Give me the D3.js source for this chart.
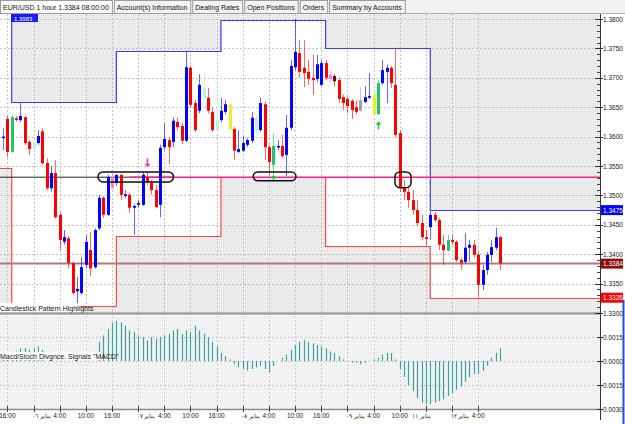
<!DOCTYPE html>
<html>
<head>
<meta charset="utf-8">
<title>EUR/USD 1 hour</title>
<script src="https://cdn.jsdelivr.net/npm/d3@7"></script>
<style>
  body { margin: 0; background: #fff; overflow: hidden; }
  text { font-family: "Liberation Sans", Arial, sans-serif; }
</style>
</head>
<body>
<script>
// ---- data ----
var opens  = [1.3598,1.3630,1.3574,1.3631,1.3628,1.3633,1.3591,1.3579,1.3589,1.3609,
              1.3555,1.3512,1.3538,1.3467,1.3421,1.3427,1.3385,1.3337,1.3334,1.3382,
              1.3407,1.3378,1.3444,1.3496,1.3467,1.3513,1.3521,1.3535,1.3499,1.3501,
              1.3479,1.3484,1.3484,1.3531,1.3521,1.3509,1.3484,1.3582,1.3594,1.3591,
              1.3625,1.3618,1.3593,1.3717,1.3657,1.3644,1.3666,1.3666,1.3642,1.3611,
              1.3628,1.3642,1.3613,1.3613,1.3574,1.3576,1.3586,1.3593,1.3608,1.3611,
              1.3655,1.3582,1.3552,1.3582,1.3584,1.3569,1.3615,1.3718,1.3742,1.3717,
              1.3710,1.3700,1.3698,1.3688,1.3725,1.3698,1.3703,1.3696,1.3667,1.3664,
              1.3661,1.3650,1.3644,1.3659,1.3666,1.3638,1.3638,1.3691,1.3710,1.3717,
              1.3688,1.3606,1.3514,1.3506,1.3492,1.3475,1.3453,1.3429,1.3446,1.3467,
              1.3458,1.3416,1.3406,1.3424,1.3421,1.3390,1.3387,1.3411,1.3416,1.3399,
              1.3348,1.3373,1.3399,1.3411,1.3429];
var highs  = [1.3614,1.3635,1.3636,1.3635,1.3657,1.3635,1.3594,1.3592,1.3611,1.3614,
              1.3563,1.3550,1.3560,1.3472,1.3441,1.3431,1.3387,1.3361,1.3395,1.3433,
              1.3438,1.3444,1.3501,1.3499,1.3535,1.3538,1.3536,1.3536,1.3509,1.3504,
              1.3485,1.3492,1.3540,1.3540,1.3526,1.3518,1.3586,1.3623,1.3598,1.3632,
              1.3632,1.3623,1.3746,1.3720,1.3662,1.3706,1.3710,1.3683,1.3649,1.3662,
              1.3666,1.3662,1.3659,1.3616,1.3611,1.3601,1.3598,1.3642,1.3637,1.3666,
              1.3659,1.3586,1.3606,1.3594,1.3603,1.3637,1.3730,1.3800,1.3764,1.3764,
              1.3730,1.3739,1.3739,1.3730,1.3730,1.3713,1.3706,1.3700,1.3671,1.3668,
              1.3664,1.3662,1.3684,1.3686,1.3708,1.3674,1.3696,1.3730,1.3722,1.3720,
              1.3751,1.3611,1.3526,1.3513,1.3509,1.3492,1.3467,1.3441,1.3473,1.3472,
              1.3462,1.3433,1.3433,1.3433,1.3424,1.3394,1.3436,1.3424,1.3424,1.3404,
              1.3382,1.3404,1.3424,1.3445,1.3431];
var lows   = [1.3577,1.3565,1.3572,1.3626,1.3625,1.3586,1.3569,1.3577,1.3586,1.3552,
              1.3509,1.3506,1.3461,1.3407,1.3416,1.3376,1.3331,1.3317,1.3331,1.3376,
              1.3363,1.3375,1.3441,1.3462,1.3465,1.3509,1.3516,1.3492,1.3496,1.3470,
              1.3433,1.3480,1.3482,1.3518,1.3501,1.3478,1.3463,1.3577,1.3553,1.3582,
              1.3611,1.3587,1.3591,1.3649,1.3608,1.3640,1.3662,1.3640,1.3608,1.3608,
              1.3625,1.3638,1.3606,1.3560,1.3572,1.3574,1.3582,1.3589,1.3603,1.3608,
              1.3560,1.3535,1.3535,1.3577,1.3564,1.3533,1.3611,1.3713,1.3700,1.3684,
              1.3688,1.3671,1.3693,1.3686,1.3696,1.3693,1.3686,1.3657,1.3645,1.3640,
              1.3630,1.3638,1.3642,1.3657,1.3664,1.3635,1.3638,1.3688,1.3657,1.3683,
              1.3599,1.3506,1.3492,1.3479,1.3467,1.3448,1.3424,1.3414,1.3424,1.3455,
              1.3407,1.3382,1.3404,1.3416,1.3387,1.3373,1.3384,1.3387,1.3394,1.3326,
              1.3339,1.3365,1.3387,1.3407,1.3373];
var closes = [1.3600,1.3574,1.3633,1.3628,1.3635,1.3589,1.3579,1.3589,1.3601,1.3555,
              1.3512,1.3538,1.3463,1.3424,1.3429,1.3385,1.3334,1.3341,1.3378,1.3421,
              1.3376,1.3441,1.3496,1.3467,1.3531,1.3531,1.3535,1.3501,1.3502,1.3479,
              1.3482,1.3487,1.3535,1.3523,1.3509,1.3480,1.3581,1.3596,1.3582,1.3627,
              1.3616,1.3593,1.3718,1.3654,1.3611,1.3688,1.3683,1.3644,1.3611,1.3628,
              1.3644,1.3655,1.3655,1.3576,1.3579,1.3589,1.3594,1.3632,1.3632,1.3657,
              1.3582,1.3557,1.3584,1.3584,1.3567,1.3615,1.3720,1.3744,1.3710,1.3708,
              1.3698,1.3696,1.3723,1.3725,1.3700,1.3705,1.3694,1.3664,1.3657,1.3652,
              1.3645,1.3642,1.3662,1.3667,1.3669,1.3671,1.3691,1.3713,1.3717,1.3691,
              1.3603,1.3514,1.3506,1.3492,1.3475,1.3453,1.3429,1.3426,1.3467,1.3458,
              1.3416,1.3407,1.3424,1.3421,1.3390,1.3385,1.3411,1.3416,1.3399,1.3348,
              1.3373,1.3399,1.3412,1.3429,1.3384];
// candles recoloured by the pattern-highlight indicator
var markIdx   = [2, 7, 25, 46, 49, 52, 58, 62, 75, 76, 82, 85, 86, 102];
var markColor = ["#1fc46d","#b8f2ee","#ff7fd0","#b8f2ee","#b8f2ee","#eeee22","#b8f2ee",
                 "#1fc46d","#ff7fd0","#800000","#a0a0a0","#eeee22","#1fc46d","#1fc46d"];

var macd = [0.0003,0.0004,0.0005,0.0006,0.0008,0.0008,0.0007,0.0008,0.0009,0.0007,
            0.0000,0.0000,0.0000,0.0000,0.0000,0.0000,0.0000,0.0000,0.0000,0.0000,
            0.0000,0.0000,0.0012,0.0016,0.0020,0.0024,0.0025,0.0024,0.0022,0.0019,
            0.0018,0.0016,0.0015,0.0013,0.0015,0.0014,0.0015,0.0016,0.0017,0.0019,
            0.0020,0.0017,0.0019,0.0018,0.0022,0.0019,0.0017,0.0015,0.0012,0.0009,
            0.0005,0.0003,0.0001,-0.0002,-0.0004,-0.0005,-0.0006,-0.0005,-0.0004,-0.0003,
            -0.0005,-0.0007,-0.0003,0.0000,0.0002,0.0004,0.0007,0.0010,0.0012,0.0013,
            0.0012,0.0011,0.0010,0.0009,0.0008,0.0006,0.0005,0.0003,0.0001,0.0000,
            -0.0001,-0.0001,-0.0002,-0.0001,0.0000,0.0001,0.0002,0.0004,0.0005,0.0005,
            0.0001,-0.0005,-0.0010,-0.0015,-0.0019,-0.0023,-0.0026,-0.0027,-0.0027,-0.0026,
            -0.0025,-0.0024,-0.0022,-0.0020,-0.0018,-0.0016,-0.0013,-0.0010,-0.0008,-0.0008,
            -0.0006,-0.0003,0.0002,0.0005,0.0008];

// daily high / low channel (first value = day before the visible range)
var dayStart = [2, 26, 50, 74, 98];
var dayHigh  = [1.3983, 1.3659, 1.3746, 1.3799, 1.3750, 1.3475];
var dayLow   = [1.3547, 1.3312, 1.3431, 1.3532, 1.3414, 1.3326];

var priceTicks = [1.3300, 1.3350, 1.3400, 1.3450, 1.3500, 1.3550, 1.3600, 1.3650, 1.3700, 1.3750, 1.3800];
var macdTicks  = [0.0015, 0, -0.0015, -0.0030];
var macdTickText = ["0.0015", "0.0000", "0.0015", "0.0030"];

var timeIdx  = [1, 7, 13, 19, 25, 31, 37, 43, 49, 55, 61, 67, 73, 79, 85, 91, 97, 103, 109];
var timeText = ["16:00","","4:00","10:00","16:00","","4:00","10:00","16:00","","4:00","10:00","16:00","","4:00","10:00","","","4:00"];
var dateText = ["","","يناير ٠٦","","","","يناير ٠٧","","","","يناير ٠٨","","","","يناير ٠٩","","يناير ١١","","يناير ١٢"];

var arrowIdx   = [33, 86, 62];
var arrowTip   = [1.3548, 1.3626, 1.3535];
var arrowDir   = [1, -1, -1];       // 1 = pointing down
var arrowColor = ["#ff3fa0", "#11cc33", "#11cc33"];
var arrowSize  = [9, 8, 5];

var capsuleFrom = [21.8, 57.4, 89.9];
var capsuleTo   = [39.1, 67.2, 93.6];
var capsuleHi   = [1.3540, 1.3540, 1.3540];
var capsuleLo   = [1.3523, 1.3525, 1.3513];

var supportLevel = 1.3531;
var lastPrice = 1.3384;
var sideLabels = [1.3475, 1.3384, 1.3326];
var sideColors = ["#0000ff", "#8a0f0f", "#ff0000"];

var tabs = ["EUR/USD 1 hour 1.3384 08:00:00", "Account(s) Information", "Dealing Rates",
            "Open Positions", "Orders", "Summary by Accounts"];

// ---- layout ----
var width = 625, height = 424;
var plotR = 600, mainTop = 14, mainBot = 312, subTop = 316, subBot = 409;

var x = d3.scaleLinear().domain([0, 114]).range([3, 500]);
var y = d3.scaleLinear().domain([1.33, 1.38]).range([313, 19]);
var ym = d3.scaleLinear().domain([-0.003, 0.0015]).range([409, 337]);

var svg = d3.select("body").append("svg")
    .attr("width", width)
    .attr("height", height);

var defs = svg.append("defs");
var pat = defs.append("pattern").attr("id", "shade")
    .attr("width", 2).attr("height", 2).attr("patternUnits", "userSpaceOnUse");
pat.append("rect").attr("width", 2).attr("height", 2).attr("fill", "#e6e6e6");
pat.append("rect").attr("width", 1).attr("height", 1).attr("fill", "#f7f7f7");
var pat2 = defs.append("pattern").attr("id", "shade2")
    .attr("width", 2).attr("height", 2).attr("patternUnits", "userSpaceOnUse");
pat2.append("rect").attr("width", 2).attr("height", 2).attr("fill", "#f5f5f5");
pat2.append("rect").attr("width", 1).attr("height", 1).attr("fill", "#e7e7e7");

defs.append("clipPath").attr("id", "clipMain")
    .append("rect").attr("x", 0).attr("y", mainTop).attr("width", plotR).attr("height", mainBot - mainTop);
defs.append("clipPath").attr("id", "clipSub")
    .append("rect").attr("x", 0).attr("y", subTop).attr("width", plotR).attr("height", subBot - subTop);

svg.append("rect").attr("width", width).attr("height", height).attr("fill", "#fff");

// ---- main panel ----
var main = svg.append("g").attr("clip-path", "url(#clipMain)");

// segment edges of the day channel
var segX = [0].concat(dayStart.map(function (d) { return x(d); })).concat([plotR]);

dayHigh.forEach(function (h, k) {
    main.append("rect")
        .attr("x", segX[k]).attr("width", segX[k + 1] - segX[k])
        .attr("y", mainTop).attr("height", Math.max(0, y(h) - mainTop))
        .attr("fill", "url(#shade)");
    main.append("rect")
        .attr("x", segX[k]).attr("width", segX[k + 1] - segX[k])
        .attr("y", y(dayLow[k])).attr("height", Math.max(0, mainBot - y(dayLow[k])))
        .attr("fill", "url(#shade)");
});

// grid
main.selectAll(".hgrid").data(priceTicks).enter().append("line")
    .attr("x1", 0).attr("x2", plotR)
    .attr("y1", function (d) { return Math.round(y(d)) + 0.5; })
    .attr("y2", function (d) { return Math.round(y(d)) + 0.5; })
    .attr("stroke", "#c4c4c4").attr("stroke-dasharray", "2,2");
main.selectAll(".vgrid").data(timeIdx).enter().append("line")
    .attr("x1", function (d) { return Math.round(x(d)) + 0.5; })
    .attr("x2", function (d) { return Math.round(x(d)) + 0.5; })
    .attr("y1", mainTop).attr("y2", mainBot)
    .attr("stroke", "#c4c4c4").attr("stroke-dasharray", "2,2");

// channel lines
function stepPath(levels) {
    var p = "";
    levels.forEach(function (v, k) {
        var yy = Math.round(y(v)) + 0.5;
        p += (k === 0 ? "M" : "L") + segX[k] + "," + yy + "L" + segX[k + 1] + "," + yy;
    });
    return p;
}
main.append("path").attr("d", stepPath(dayHigh)).attr("fill", "none")
    .attr("stroke", "#3b3bff").attr("stroke-width", 1.2);
main.append("path").attr("d", stepPath(dayLow)).attr("fill", "none")
    .attr("stroke", "#ff4a4a").attr("stroke-width", 1.2);

// horizontal levels
main.append("line")
    .attr("x1", 0).attr("x2", plotR)
    .attr("y1", y(lastPrice)).attr("y2", y(lastPrice))
    .attr("stroke", "#b07a7a").attr("stroke-width", 2);
main.append("line")
    .attr("x1", 0).attr("x2", x(capsuleTo[0]))
    .attr("y1", y(supportLevel)).attr("y2", y(supportLevel))
    .attr("stroke", "#222").attr("stroke-width", 1);
main.append("line")
    .attr("x1", x(29)).attr("x2", plotR)
    .attr("y1", y(supportLevel)).attr("y2", y(supportLevel))
    .attr("stroke", "#ff1f8f").attr("stroke-width", 1.5);

// candles
var idx = d3.range(opens.length);
function candleColor(i) {
    var m = markIdx.indexOf(i);
    if (m >= 0) return markColor[m];
    return closes[i] >= opens[i] ? "#0000ff" : "#ff0000";
}
var candles = main.append("g").selectAll("g").data(idx).enter().append("g");
candles.append("line")
    .attr("x1", function (i) { return Math.round(x(i)) + 0.5; })
    .attr("x2", function (i) { return Math.round(x(i)) + 0.5; })
    .attr("y1", function (i) { return y(highs[i]); })
    .attr("y2", function (i) { return y(lows[i]); })
    .attr("stroke", candleColor).attr("stroke-opacity", 0.6);
candles.append("rect")
    .attr("x", function (i) { return Math.round(x(i)) - 1; })
    .attr("width", 3)
    .attr("y", function (i) { return y(Math.max(opens[i], closes[i])); })
    .attr("height", function (i) { return Math.max(1.5, Math.abs(y(opens[i]) - y(closes[i]))); })
    .attr("fill", candleColor);

// signal arrows
arrowIdx.forEach(function (ci, k) {
    var cx = Math.round(x(ci)) + 0.5, tip = y(arrowTip[k]), s = arrowSize[k], dir = arrowDir[k];
    var base = tip - dir * s;
    main.append("line").attr("x1", cx).attr("x2", cx)
        .attr("y1", base).attr("y2", tip - dir * 3)
        .attr("stroke", arrowColor[k]).attr("stroke-width", 1.5);
    main.append("path")
        .attr("d", "M" + (cx - 3) + "," + (tip - dir * 3.5) + "L" + (cx + 3) + "," + (tip - dir * 3.5) + "L" + cx + "," + tip + "Z")
        .attr("fill", arrowColor[k]);
});

// pattern capsules
capsuleFrom.forEach(function (c, k) {
    var x0 = x(c), x1 = x(capsuleTo[k]), y0 = y(capsuleHi[k]), y1 = y(capsuleLo[k]);
    main.append("rect")
        .attr("x", x0).attr("y", y0).attr("width", x1 - x0).attr("height", y1 - y0)
        .attr("rx", Math.min((y1 - y0) / 2, 5)).attr("ry", Math.min((y1 - y0) / 2, 5))
        .attr("fill", "none").attr("stroke", "#111").attr("stroke-width", 1.5);
});

// indicator name
var lbl1 = svg.append("g");
lbl1.append("rect").attr("x", 0).attr("y", 303).attr("width", 80).attr("height", 9).attr("fill", "#fff");
lbl1.append("text").attr("x", 0).attr("y", 310.5).attr("font-size", 7).attr("fill", "#111")
    .text("Candlestick Pattern Highlights");

// ---- MACD panel ----
var sub = svg.append("g").attr("clip-path", "url(#clipSub)");
sub.append("rect").attr("x", 0).attr("y", subTop).attr("width", plotR).attr("height", subBot - subTop)
    .attr("fill", "url(#shade2)");
sub.selectAll(".mgrid").data(macdTicks.slice(0, 3)).enter().append("line")
    .attr("x1", 0).attr("x2", plotR)
    .attr("y1", function (d) { return Math.round(ym(d)) + 0.5; })
    .attr("y2", function (d) { return Math.round(ym(d)) + 0.5; })
    .attr("stroke", "#cfcfcf").attr("stroke-dasharray", "2,2");
sub.selectAll(".mvgrid").data(timeIdx).enter().append("line")
    .attr("x1", function (d) { return Math.round(x(d)) + 0.5; })
    .attr("x2", function (d) { return Math.round(x(d)) + 0.5; })
    .attr("y1", subTop).attr("y2", subBot)
    .attr("stroke", "#cfcfcf").attr("stroke-dasharray", "2,2");
sub.selectAll(".bar").data(idx.filter(function (i) { return macd[i] !== 0; })).enter().append("line")
    .attr("x1", function (i) { return Math.round(x(i)) + 0.5; })
    .attr("x2", function (i) { return Math.round(x(i)) + 0.5; })
    .attr("y1", ym(0))
    .attr("y2", function (i) { return ym(macd[i]); })
    .attr("stroke", "#3ea39b").attr("stroke-width", 1.2);

var lbl2 = svg.append("g");
lbl2.append("rect").attr("x", 0).attr("y", 352).attr("width", 100).attr("height", 8).attr("fill", "#fff");
lbl2.append("text").attr("x", 0).attr("y", 359).attr("font-size", 7).attr("fill", "#111")
    .text("Macd/Stoch Divgnce.  Signals \"MACD\"");

// separators
svg.append("line").attr("x1", 0).attr("x2", plotR).attr("y1", 313.5).attr("y2", 313.5)
    .attr("stroke", "#9c9c9c").attr("stroke-width", 2.5);
svg.append("line").attr("x1", 0).attr("x2", plotR).attr("y1", subBot + 0.5).attr("y2", subBot + 0.5)
    .attr("stroke", "#8c8c8c").attr("stroke-width", 1.5);

// ---- right axis ----
svg.append("line").attr("x1", plotR + 0.5).attr("x2", plotR + 0.5).attr("y1", mainTop).attr("y2", 420)
    .attr("stroke", "#333");
var minor = d3.range(1.3300, 1.3805, 0.001);
svg.selectAll(".mtick").data(minor).enter().append("line")
    .attr("x1", plotR - 3).attr("x2", plotR)
    .attr("y1", function (d) { return Math.round(y(d)) + 0.5; })
    .attr("y2", function (d) { return Math.round(y(d)) + 0.5; })
    .attr("stroke", "#444");
svg.selectAll(".ptick").data(priceTicks).enter().append("line")
    .attr("x1", plotR - 5).attr("x2", plotR + 3)
    .attr("y1", function (d) { return Math.round(y(d)) + 0.5; })
    .attr("y2", function (d) { return Math.round(y(d)) + 0.5; })
    .attr("stroke", "#333");
svg.selectAll(".plabel").data(priceTicks).enter().append("text")
    .attr("x", plotR + 3).attr("y", function (d) { return y(d) + 2.5; })
    .attr("font-size", 6.5).attr("fill", "#222")
    .text(function (d) { return d.toFixed(4); });

sideLabels.forEach(function (v, k) {
    svg.append("rect").attr("x", plotR + 1).attr("y", y(v) - 5).attr("width", 22).attr("height", 10)
        .attr("fill", sideColors[k]);
    svg.append("text").attr("x", plotR + 3).attr("y", y(v) + 2.5)
        .attr("font-size", 6.5).attr("fill", "#fff").text(v.toFixed(4));
});

svg.selectAll(".mlab").data(macdTicks).enter().append("text")
    .attr("x", plotR + 3).attr("y", function (d) { return ym(d) + 2.5; })
    .attr("font-size", 6.5).attr("fill", "#222")
    .text(function (d, i) { return macdTickText[i]; });
svg.selectAll(".mt").data(macdTicks).enter().append("line")
    .attr("x1", plotR - 3).attr("x2", plotR + 3)
    .attr("y1", function (d) { return Math.round(ym(d)) + 0.5; })
    .attr("y2", function (d) { return Math.round(ym(d)) + 0.5; })
    .attr("stroke", "#333");

// top-left previous high tag
svg.append("rect").attr("x", 11).attr("y", 14).attr("width", 27).attr("height", 8).attr("fill", "#1c1cff");
svg.append("text").attr("x", 14).attr("y", 20.5).attr("font-size", 6).attr("fill", "#fff")
    .text(dayHigh[0].toFixed(4));

// ---- time axis ----
svg.selectAll(".ttick").data(timeIdx).enter().append("line")
    .attr("x1", function (d) { return Math.round(x(d)) + 0.5; })
    .attr("x2", function (d) { return Math.round(x(d)) + 0.5; })
    .attr("y1", subBot - 3).attr("y2", subBot + 3)
    .attr("stroke", "#444");
timeIdx.forEach(function (d, k) {
    var tx = x(d);
    if (timeText[k]) {
        svg.append("text").attr("x", tx).attr("y", 418).attr("text-anchor", "middle")
            .attr("font-size", 6.5).attr("fill", "#222").text(timeText[k]);
    }
    if (dateText[k]) {
        svg.append("text").attr("x", timeText[k] ? tx - 9 : tx + 5).attr("y", 418)
            .attr("text-anchor", "end")
            .attr("font-family", "DejaVu Sans").attr("font-size", 6)
            .attr("fill", "#222").text(dateText[k]);
    }
});

// right window edge
svg.append("line").attr("x1", 623.5).attr("x2", 623.5).attr("y1", 300).attr("y2", 424)
    .attr("stroke", "#2a4bd8").attr("stroke-width", 2);

// ---- tab bar ----
var bar = svg.append("g");
bar.append("rect").attr("width", width).attr("height", 14).attr("fill", "#f1f1f1");
bar.append("line").attr("x1", 0).attr("x2", width).attr("y1", 13.5).attr("y2", 13.5).attr("stroke", "#b0b0b0");
var tx0 = 0;
tabs.forEach(function (t, k) {
    var g = bar.append("g");
    var r = g.append("rect").attr("x", tx0 + 0.5).attr("y", 0.5).attr("height", 13)
        .attr("fill", k === 0 ? "#fff" : "#f3f3f3").attr("stroke", "#9a9a9a");
    var txt = g.append("text").attr("x", tx0 + 3).attr("y", 10).attr("font-size", 7)
        .attr("fill", "#111").text(t);
    var w = txt.node().getComputedTextLength() + 6;
    r.attr("width", w);
    tx0 += w + 2;
});
</script>
</body>
</html>
